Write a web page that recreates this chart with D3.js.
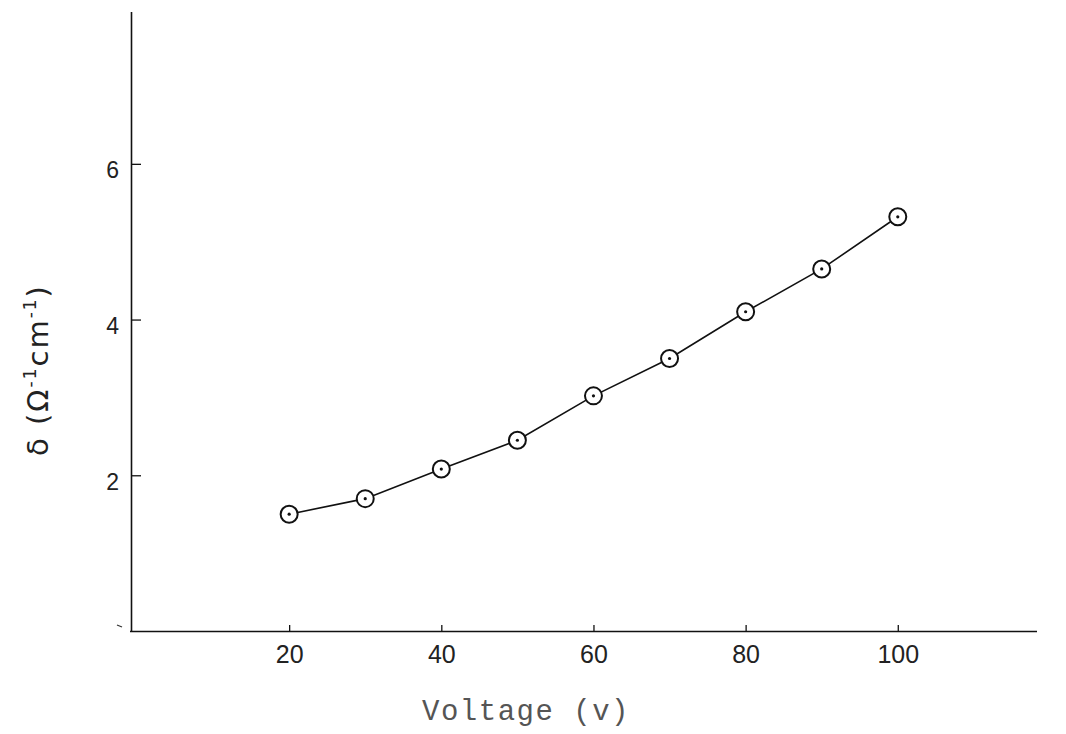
<!DOCTYPE html>
<html>
<head>
<meta charset="utf-8">
<script src="https://cdn.jsdelivr.net/npm/d3@7"></script>
<style>
html,body{margin:0;padding:0;background:#fff;}
svg{display:block;}
</style>
</head>
<body>
<svg id="chart" width="1066" height="734"></svg>
<script>
const voltage = [20, 30, 40, 50, 60, 70, 80, 90, 100];
const conductivity = [1.5, 1.7, 2.08, 2.45, 3.02, 3.5, 4.1, 4.65, 5.32];
const xTicks = [20, 40, 60, 80, 100];
const yTicks = [2, 4, 6];
const xTitle = "Voltage (v)";

const svg = d3.select("#chart");
const x = d3.scaleLinear().domain([0, 118.3]).range([137, 1037]);
const y = d3.scaleLinear().domain([0, 7.95]).range([631, 12]);

// x axis
const xAxis = d3.axisBottom(x).tickValues(xTicks).tickSize(-6).tickPadding(14)
  .tickFormat(d3.format("d"));
const gx = svg.append("g").attr("transform", `translate(0,${y(0)})`).call(xAxis);
gx.select(".domain").attr("d", `M130,0.5H1037`).attr("stroke", "#111").attr("stroke-width", 1.6);
gx.selectAll(".tick line").attr("stroke", "#111").attr("stroke-width", 1.3);
gx.selectAll(".tick text").attr("font-family", "'Liberation Sans', sans-serif")
  .attr("font-size", 25).attr("fill", "#222");

// y axis
const yAxis = d3.axisLeft(y).tickValues(yTicks).tickSize(-10).tickPadding(12)
  .tickFormat(d3.format("d"));
const gy = svg.append("g").attr("transform", `translate(${x(0) - 6},0)`).call(yAxis);
gy.select(".domain").attr("d", `M0.5,${y(0)}V12`).attr("stroke", "#111").attr("stroke-width", 1.6);
gy.selectAll(".tick line").attr("stroke", "#111").attr("stroke-width", 1.3);
gy.selectAll(".tick text").attr("font-family", "'Liberation Sans', sans-serif")
  .attr("font-size", 23).attr("fill", "#222").attr("dy", "0.6em");

// small zero mark to the left of origin
svg.append("line").attr("x1", x(0) - 20).attr("x2", x(0) - 15)
  .attr("y1", y(0) - 6).attr("y2", y(0) - 4).attr("stroke", "#333").attr("stroke-width", 1.3);

// line
const line = d3.line().x((d, i) => x(voltage[i])).y(d => y(d));
svg.append("path").datum(conductivity).attr("d", line)
  .attr("fill", "none").attr("stroke", "#111").attr("stroke-width", 1.6);

// markers
const pts = svg.append("g").selectAll("g").data(conductivity).join("g")
  .attr("transform", (d, i) => `translate(${x(voltage[i])},${y(d)})`);
pts.append("circle").attr("r", 8.5).attr("fill", "#fff").attr("stroke", "#111").attr("stroke-width", 2);
pts.append("circle").attr("r", 1.6).attr("fill", "#111");

// x title
svg.append("text").attr("x", 526).attr("y", 720).attr("text-anchor", "middle")
  .attr("font-family", "'Liberation Mono', 'DejaVu Sans Mono', monospace")
  .attr("font-size", 29).attr("letter-spacing", 1.5).attr("fill", "#555").text(xTitle);

// y title
const yt = svg.append("text").attr("transform", "translate(48,370) rotate(-90)")
  .attr("text-anchor", "middle").attr("font-family", "'DejaVu Sans', sans-serif")
  .attr("font-size", 29).attr("letter-spacing", 2).attr("fill", "#222");
yt.append("tspan").text("δ (Ω");
yt.append("tspan").attr("dy", -12).attr("font-size", 17).text("-1");
yt.append("tspan").attr("dy", 12).text("cm");
yt.append("tspan").attr("dy", -12).attr("font-size", 17).text("-1");
yt.append("tspan").attr("dy", 12).text(")");
</script>
</body>
</html>
